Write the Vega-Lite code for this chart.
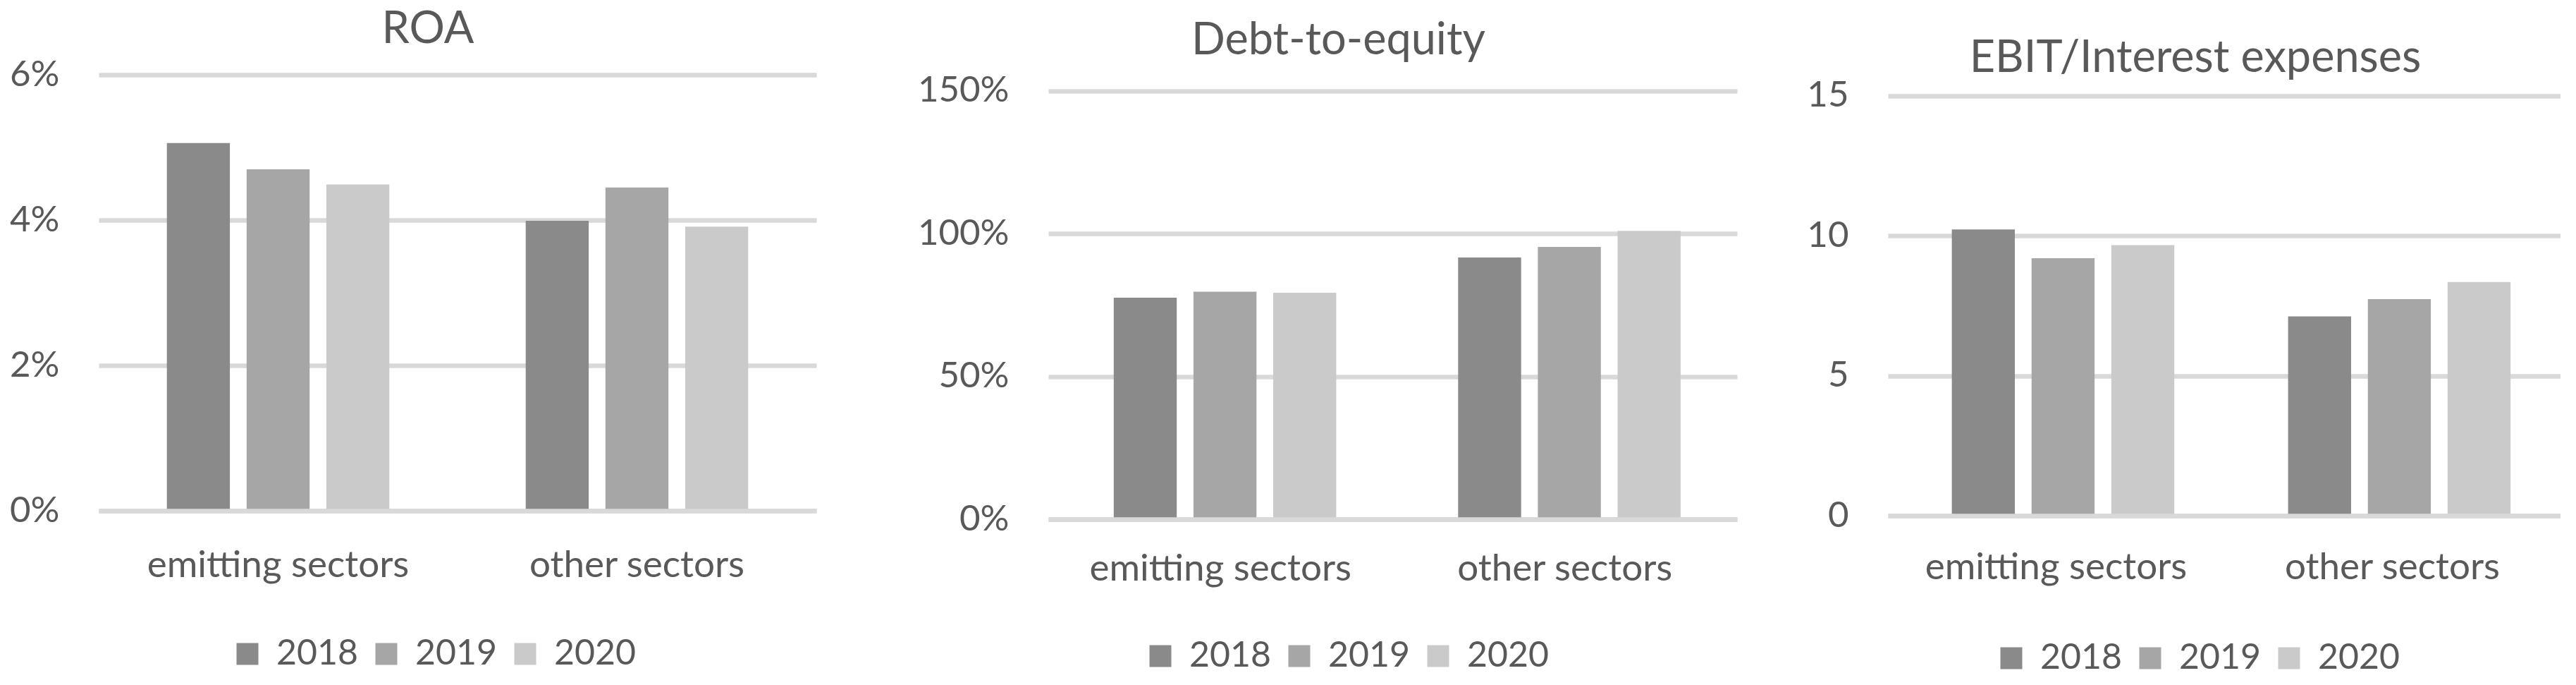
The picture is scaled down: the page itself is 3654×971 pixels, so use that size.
{
  "$schema": "https://vega.github.io/schema/vega-lite/v6.json",
  "padding": {"left": 13, "top": 11, "right": 0, "bottom": 0},
  "background": "white",
  "bounds": "flush",
  "spacing": 329,
  "data": {
    "values": [
      {"metric": "ROA", "sector": "emitting sectors", "year": "2018", "value": 0.0506},
      {"metric": "ROA", "sector": "emitting sectors", "year": "2019", "value": 0.0470},
      {"metric": "ROA", "sector": "emitting sectors", "year": "2020", "value": 0.0449},
      {"metric": "ROA", "sector": "other sectors", "year": "2018", "value": 0.0399},
      {"metric": "ROA", "sector": "other sectors", "year": "2019", "value": 0.0445},
      {"metric": "ROA", "sector": "other sectors", "year": "2020", "value": 0.0391},
      {"metric": "DE", "sector": "emitting sectors", "year": "2018", "value": 0.776},
      {"metric": "DE", "sector": "emitting sectors", "year": "2019", "value": 0.797},
      {"metric": "DE", "sector": "emitting sectors", "year": "2020", "value": 0.793},
      {"metric": "DE", "sector": "other sectors", "year": "2018", "value": 0.917},
      {"metric": "DE", "sector": "other sectors", "year": "2019", "value": 0.954},
      {"metric": "DE", "sector": "other sectors", "year": "2020", "value": 1.010},
      {"metric": "EBIT", "sector": "emitting sectors", "year": "2018", "value": 10.23},
      {"metric": "EBIT", "sector": "emitting sectors", "year": "2019", "value": 9.20},
      {"metric": "EBIT", "sector": "emitting sectors", "year": "2020", "value": 9.67},
      {"metric": "EBIT", "sector": "other sectors", "year": "2018", "value": 7.12},
      {"metric": "EBIT", "sector": "other sectors", "year": "2019", "value": 7.74},
      {"metric": "EBIT", "sector": "other sectors", "year": "2020", "value": 8.35}
    ]
  },
  "config": {
    "font": "Lato",
    "view": {"stroke": null},
    "axis": {"labelFont": "Lato", "labelColor": "#595959", "labelFontSize": 53, "ticks": false, "labelLimit": 0},
    "axisY": {"domain": false, "grid": true, "gridColor": "#d9d9d9", "gridWidth": 6.5, "labelPadding": 56, "labelFontSize": 51},
    "axisX": {"domain": true, "domainColor": "#d9d9d9", "domainWidth": 6.5, "grid": false, "labelAngle": 0},
    "title": {"font": "Lato", "fontSize": 63, "fontWeight": "normal", "color": "#595959", "anchor": "middle"},
    "legend": {"orient": "none", "direction": "horizontal", "title": null, "symbolType": "square", "symbolSize": 961, "symbolStrokeWidth": 0, "labelFont": "Lato", "labelFontSize": 50, "labelColor": "#595959", "labelOffset": 16, "columnPadding": 14, "padding": 0, "labelLimit": 0},
    "bar": {"stroke": null}
  },
  "resolve": {"scale": {"color": "independent", "y": "independent", "x": "independent"}, "legend": {"color": "independent"}},
  "hconcat": [
    {
      "title": {"text": "ROA", "offset": 6, "dx": -42},
      "width": 1018,
      "height": 618,
      "transform": [{"filter": "datum.metric === 'ROA'"}],
      "mark": "bar",
      "encoding": {
        "x": {"field": "sector", "type": "nominal", "title": null, "scale": {"paddingInner": 0.38, "paddingOuter": 0.19}, "axis": {"labelPadding": 51, "zindex": 1}},
        "xOffset": {"field": "year", "type": "nominal", "scale": {"paddingInner": 0.21, "paddingOuter": 0}},
        "y": {"field": "value", "type": "quantitative", "title": null, "scale": {"domain": [0, 0.06], "nice": false}, "axis": {"values": [0, 0.02, 0.04, 0.06], "format": ".0%"}},
        "color": {"field": "year", "type": "nominal", "scale": {"domain": ["2018", "2019", "2020"], "range": ["#8a8a8a", "#a6a6a6", "#cacaca"]}, "legend": {"legendX": 186, "legendY": 796}}
      }
    },
    {
      "bounds": "flush",
      "spacing": 214,
      "resolve": {"scale": {"color": "independent", "y": "independent", "x": "independent"}, "legend": {"color": "independent"}},
      "hconcat": [
        {
          "title": {"text": "Debt-to-equity", "offset": 13, "dx": -77},
          "width": 977,
          "height": 630,
          "transform": [{"filter": "datum.metric === 'DE'"}],
          "mark": "bar",
          "encoding": {
            "x": {"field": "sector", "type": "nominal", "title": null, "scale": {"paddingInner": 0.38, "paddingOuter": 0.19}, "axis": {"labelPadding": 44, "zindex": 1}},
            "xOffset": {"field": "year", "type": "nominal", "scale": {"paddingInner": 0.21, "paddingOuter": 0}},
            "y": {"field": "value", "type": "quantitative", "title": null, "scale": {"domain": [0, 1.5568], "nice": false}, "axis": {"values": [0, 0.5, 1, 1.5], "format": ".0%"}},
            "color": {"field": "year", "type": "nominal", "scale": {"domain": ["2018", "2019", "2020"], "range": ["#8a8a8a", "#a6a6a6", "#cacaca"]}, "legend": {"legendX": 134, "legendY": 799}}
          }
        },
        {
          "title": {"text": "EBIT/Interest expenses", "offset": -9, "dx": -41},
          "width": 954,
          "height": 625,
          "transform": [{"filter": "datum.metric === 'EBIT'"}],
          "mark": "bar",
          "encoding": {
            "x": {"field": "sector", "type": "nominal", "title": null, "scale": {"paddingInner": 0.38, "paddingOuter": 0.19}, "axis": {"labelPadding": 47, "zindex": 1}},
            "xOffset": {"field": "year", "type": "nominal", "scale": {"paddingInner": 0.21, "paddingOuter": 0}},
            "y": {"field": "value", "type": "quantitative", "title": null, "scale": {"domain": [0, 15.756], "nice": false}, "axis": {"values": [0, 5, 10, 15], "format": "d"}},
            "color": {"field": "year", "type": "nominal", "scale": {"domain": ["2018", "2019", "2020"], "range": ["#8a8a8a", "#a6a6a6", "#cacaca"]}, "legend": {"legendX": 150, "legendY": 802}}
          }
        }
      ]
    }
  ]
}
